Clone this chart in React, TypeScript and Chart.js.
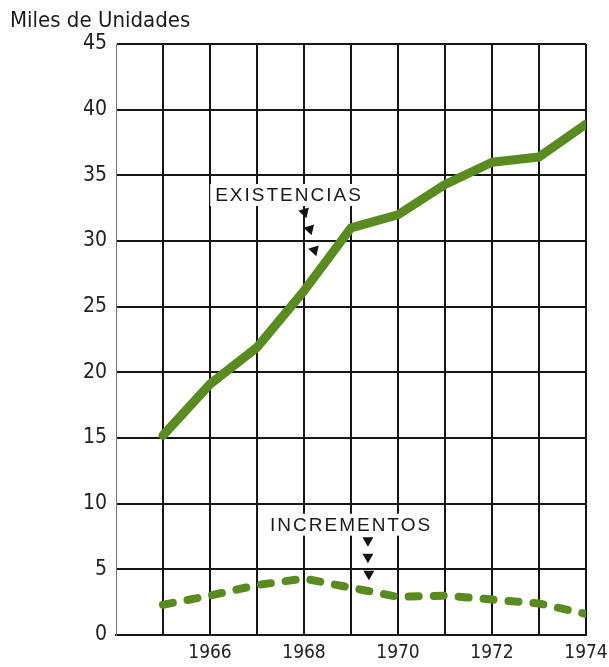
import { useEffect, useRef } from "react";
import { Chart, registerables } from "chart.js";

Chart.register(...registerables);

// ---- data ----
const years = [1965, 1966, 1967, 1968, 1969, 1970, 1971, 1972, 1973, 1974];
const existencias = [15.2, 19.1, 21.9, 26.2, 31.0, 32.0, 34.3, 36.0, 36.4, 38.9];
const incrementos = [2.3, 3.0, 3.8, 4.3, 3.6, 2.9, 3.0, 2.7, 2.4, 1.6];
const xLabelYears = [1966, 1968, 1970, 1972, 1974];
const seriesNames = ["EXISTENCIAS", "INCREMENTOS"];
const unitLabel = "Miles de Unidades";

// annotation anchors in data coordinates
const noteTextPos = [
  { x: 1967.66, y: 33.5 },
  { x: 1968.98, y: 8.4 },
];
const noteArrows = [
  [
    { x: 1968.02, y: 32.1 },
    { x: 1968.13, y: 30.8 },
    { x: 1968.23, y: 29.2 },
  ],
  [
    { x: 1969.36, y: 7.1 },
    { x: 1969.36, y: 5.85 },
    { x: 1969.38, y: 4.55 },
  ],
];
const arrowTilt = [-0.3, 0];

const GREEN = "#5a8b20";
const NARROW = '"Liberation Sans Narrow", "DejaVu Sans Condensed", "Liberation Sans", sans-serif';

const notesPlugin = {
  id: "notes",
  afterDraw(chart: any) {
    const { ctx, scales } = chart;
    const xs = scales.x;
    const ys = scales.y;
    ctx.save();
    // unit label
    ctx.font = `22px ${NARROW}`;
    ctx.fillStyle = "#1a1a1a";
    ctx.textAlign = "left";
    ctx.textBaseline = "middle";
    ctx.fillText(unitLabel, 10, 21);

    ctx.font = '19px "Liberation Sans", Arial, sans-serif';
    (ctx as any).letterSpacing = "2px";
    ctx.textAlign = "center";
    seriesNames.forEach((name, i) => {
      const px = xs.getPixelForValue(noteTextPos[i].x);
      const py = ys.getPixelForValue(noteTextPos[i].y);
      const w = ctx.measureText(name).width;
      ctx.fillStyle = "#ffffff";
      ctx.fillRect(px - w / 2 - 4, py - 11, w + 8, 22);
      ctx.fillStyle = "#1a1a1a";
      ctx.fillText(name, px + 1, py + 1);
      noteArrows[i].forEach((a) => {
        const ax = xs.getPixelForValue(a.x);
        const ay = ys.getPixelForValue(a.y);
        ctx.save();
        ctx.translate(ax, ay);
        ctx.rotate(arrowTilt[i]);
        ctx.beginPath();
        ctx.moveTo(-5.5, -4.5);
        ctx.lineTo(5.5, -4.5);
        ctx.lineTo(0, 5);
        ctx.closePath();
        ctx.fillStyle = "#111";
        ctx.fill();
        ctx.restore();
      });
    });
    ctx.restore();
  },
};

export default function App() {
  const ref = useRef<HTMLCanvasElement | null>(null);
  useEffect(() => {
    if (!ref.current) return;
    const chart = new Chart(ref.current, {
      type: "line",
      data: {
        datasets: [
          {
            label: seriesNames[0],
            data: years.map((y, i) => ({ x: y, y: existencias[i] })),
            borderColor: GREEN,
            borderWidth: 9,
            borderCapStyle: "round",
            borderJoinStyle: "round",
            pointRadius: 0,
            tension: 0,
          },
          {
            label: seriesNames[1],
            data: years.map((y, i) => ({ x: y, y: incrementos[i] })),
            borderColor: GREEN,
            borderWidth: 8,
            borderDash: [10, 15],
            borderCapStyle: "round",
            borderJoinStyle: "round",
            pointRadius: 0,
            tension: 0,
          },
        ],
      },
      options: {
        animation: false,
        responsive: true,
        maintainAspectRatio: false,
        layout: { padding: { top: 44, right: 23, left: 0, bottom: 0 } },
        plugins: { legend: { display: false }, tooltip: { enabled: false }, title: { display: false } },
        scales: {
          x: {
            type: "linear",
            min: 1964,
            max: 1974,
            afterFit: (s: any) => {
              s.height = 32;
              s.paddingLeft = 0;
              s.paddingRight = 0;
            },
            ticks: {
              stepSize: 1,
              autoSkip: false,
              maxRotation: 0,
              padding: 7,
              color: "#222",
              font: { family: NARROW, size: 19 },
              callback: (v: any) => (xLabelYears.includes(Number(v)) ? String(v) : ""),
            },
            grid: {
              drawTicks: false,
              lineWidth: 2,
              color: (c: any) => (c.tick && c.tick.value === 1964 ? "rgba(0,0,0,0)" : "#161616"),
            },
            border: { display: true, color: "#161616", width: 2 },
          },
          y: {
            type: "linear",
            min: 0,
            max: 45,
            afterFit: (s: any) => {
              s.width = 116;
              s.paddingTop = 0;
              s.paddingBottom = 0;
            },
            ticks: {
              stepSize: 5,
              padding: 9,
              color: "#222",
              font: { family: NARROW, size: 21 },
            },
            grid: { drawTicks: false, lineWidth: 2, color: "#161616" },
            border: { display: true, color: "#777", width: 1 },
          },
        },
      },
      plugins: [notesPlugin],
    } as any);
    return () => chart.destroy();
  }, []);
  return (
    <div style={{ position: "fixed", left: 0, top: 0, width: 609, height: 667, background: "#fff" }}>
      <canvas ref={ref} />
    </div>
  );
}
